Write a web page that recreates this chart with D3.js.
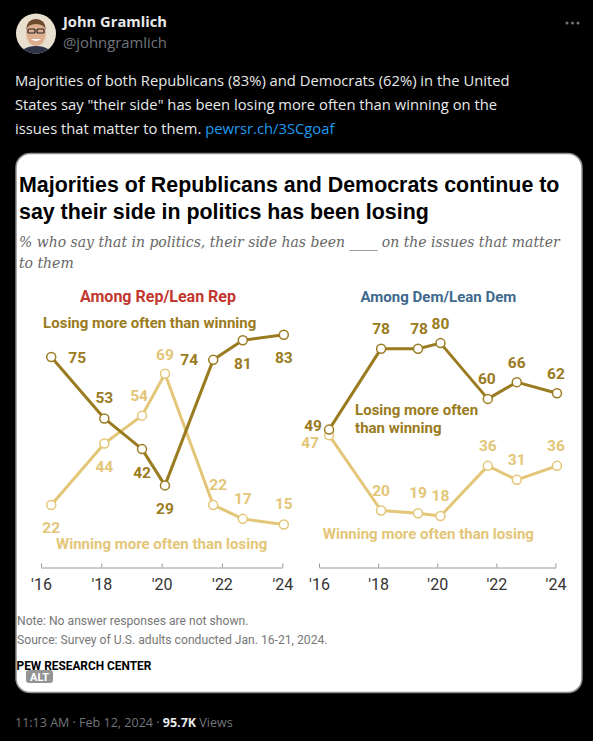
<!DOCTYPE html>
<html>
<head>
<meta charset="utf-8">
<script src="https://cdn.jsdelivr.net/npm/d3@7"></script>
<style>
  body { margin: 0; background: #000; }
  svg { display: block; }
</style>
</head>
<body>
<div id="chart"></div>
<script>
// survey dates (decimal years)
const surveyDates = [2016.34, 2018.1, 2019.35, 2020.11, 2021.71, 2022.69, 2024.05];
const tickYears = [2016, 2018, 2020, 2022, 2024];
const tickLabels = ["'16", "'18", "'20", "'22", "'24"];

const repLosing = [75, 53, 42, 29, 74, 81, 83];
const repWinning = [22, 44, 54, 69, 22, 17, 15];
const demLosing = [49, 78, 78, 80, 60, 66, 62];
const demWinning = [47, 20, 19, 18, 36, 31, 36];

// where each value label sits relative to its point (px)
const repLosingLab = [[26, 1], [0, -21], [0, 23], [0, 23], [-24, 0], [0, 23], [0, 23]];
const repWinningLab = [[0, 23], [0, 23], [-3, -20], [0, -19], [5, -20], [0, -20], [0, -21]];
const demLosingLab = [[-16, -4], [0, -20], [1, -20], [0, -20], [-1, -20], [0, -20], [-1, -20]];
const demWinningLab = [[-19, 7], [0, -20], [0, -21], [0, -21], [0, -20], [0, -20], [-1, -20]];

const W = 593, H = 741;
const darkGold = "#9a7b20", lightGold = "#e3c677";
const labelFont = "Roboto, 'Liberation Sans', sans-serif";

const svg = d3.select("#chart").append("svg")
    .attr("width", W).attr("height", H);

function fitWidth(sel, w) {
    const len = sel.node().getComputedTextLength();
    const fs = parseFloat(sel.style("font-size"));
    sel.style("font-size", (fs * w / len) + "px");
}

// ---- tweet header ----
const av = svg.append("g");
av.append("clipPath").attr("id", "avclip")
    .append("circle").attr("cx", 36).attr("cy", 33.5).attr("r", 20);
const avg = av.append("g").attr("clip-path", "url(#avclip)");
avg.append("rect").attr("x", 16).attr("y", 13).attr("width", 40).attr("height", 41).attr("fill", "#e9dfcf");
avg.append("ellipse").attr("cx", 36).attr("cy", 56).attr("rx", 17).attr("ry", 10).attr("fill", "#2d3447");
avg.append("ellipse").attr("cx", 36).attr("cy", 33).attr("rx", 10).attr("ry", 13).attr("fill", "#dcae90");
avg.append("path").attr("d", "M26,30 Q27,19 36,19 Q45,19 46,30 Q44,24 36,24 Q28,24 26,30Z").attr("fill", "#6e4a2c");
avg.append("rect").attr("x", 28).attr("y", 29).attr("width", 7).attr("height", 4).attr("rx", 1)
    .attr("fill", "none").attr("stroke", "#222").attr("stroke-width", 1.2);
avg.append("rect").attr("x", 37).attr("y", 29).attr("width", 7).attr("height", 4).attr("rx", 1)
    .attr("fill", "none").attr("stroke", "#222").attr("stroke-width", 1.2);
avg.append("path").attr("d", "M31,39 Q36,43 41,39").attr("fill", "#fff");

svg.append("text").attr("x", 63).attr("y", 27)
    .attr("font-family", "'Open Sans', sans-serif").attr("font-weight", 700)
    .attr("font-size", 15).attr("fill", "#e7e9ea").text("John Gramlich")
    .call(fitWidth, 104);
svg.append("text").attr("x", 63).attr("y", 48)
    .attr("font-family", "'Open Sans', sans-serif")
    .attr("font-size", 15).attr("fill", "#71767b").text("@johngramlich")
    .call(fitWidth, 104);
svg.append("g").selectAll("circle").data([567, 572.5, 578]).join("circle")
    .attr("cx", d => d).attr("cy", 23).attr("r", 1.5).attr("fill", "#71767b");

// ---- tweet text ----
const tweetLines = [
    "Majorities of both Republicans (83%) and Democrats (62%) in the United",
    "States say \"their side\" has been losing more often than winning on the"
];
const tw = svg.append("g").attr("font-family", "'Open Sans', sans-serif")
    .attr("font-size", 16).attr("fill", "#e7e9ea");
const l1 = tw.append("text").attr("x", 15).attr("y", 86).text(tweetLines[0]);
fitWidth(l1, 495);
const tfs = l1.style("font-size");
tw.append("text").attr("x", 15).attr("y", 110).style("font-size", tfs).text(tweetLines[1]);
const l3 = tw.append("text").attr("x", 15).attr("y", 134).style("font-size", tfs);
l3.append("tspan").text("issues that matter to them. ");
l3.append("tspan").attr("fill", "#1d9bf0").text("pewrsr.ch/3SCgoaf");

// ---- card ----
svg.append("rect").attr("x", 16).attr("y", 153.5).attr("width", 566).attr("height", 539)
    .attr("rx", 14).attr("fill", "#fff").attr("stroke", "#8d8d8d").attr("stroke-width", 1.5);

const title = svg.append("g").attr("font-family", "'Liberation Sans', Arial, sans-serif")
    .attr("font-weight", 700).attr("font-size", 20).attr("fill", "#000");
const t1 = title.append("text").attr("x", 19).attr("y", 192)
    .text("Majorities of Republicans and Democrats continue to");
fitWidth(t1, 541);
title.append("text").attr("x", 19).attr("y", 219).style("font-size", t1.style("font-size"))
    .text("say their side in politics has been losing");

const sub = svg.append("g").attr("font-family", "'DejaVu Serif', Georgia, serif")
    .attr("font-style", "italic").attr("font-size", 15).attr("fill", "#666");
const s1 = sub.append("text").attr("x", 19).attr("y", 247)
    .text("% who say that in politics, their side has been ____ on the issues that matter");
fitWidth(s1, 541);
sub.append("text").attr("x", 19).attr("y", 268).style("font-size", s1.style("font-size"))
    .text("to them");

// ---- panels ----
const y = d3.scaleLinear().domain([0, 100]).range([566.3, 287.3]);
const axisY = 567.5;

const panels = [
    { range: [41, 282.3], head: "Among Rep/Lean Rep", headColor: "#c2372e", headX: 2019.88,
      losing: repLosing, winning: repWinning, losingLab: repLosingLab, winningLab: repWinningLab,
      losingNote: { x: 2016.07, v: 85.4, anchor: "start", lines: ["Losing more often than winning"] },
      winningNote: { x: 2020.0, v: 6.2, anchor: "middle", lines: ["Winning more often than losing"] } },
    { range: [319, 555.5], head: "Among Dem/Lean Dem", headColor: "#3e6a8d", headX: 2020.04,
      losing: demLosing, winning: demWinning, losingLab: demLosingLab, winningLab: demWinningLab,
      losingNote: { x: 2017.22, v: 54.3, anchor: "start", lines: ["Losing more often", "than winning"] },
      winningNote: { x: 2019.7, v: 9.8, anchor: "middle", lines: ["Winning more often than losing"] } }
];

panels.forEach(p => {
    const x = d3.scaleLinear().domain([2016, 2024]).range(p.range);
    const g = svg.append("g");

    // axis
    const ax = g.append("g").attr("transform", `translate(0,${axisY})`)
        .call(d3.axisBottom(x).tickValues(tickYears)
            .tickFormat((d, i) => tickLabels[i])
            .tickSizeInner(-4).tickSizeOuter(0).tickPadding(11));
    ax.select(".domain").attr("stroke", "#999");
    ax.selectAll(".tick line").attr("stroke", "#999");
    ax.selectAll(".tick text").attr("font-family", labelFont).attr("font-size", 16)
        .attr("fill", "#333");

    // panel heading
    g.append("text").attr("x", x(p.headX)).attr("y", y(94.7))
        .attr("text-anchor", "middle").attr("font-family", labelFont)
        .attr("font-weight", 700).attr("font-size", 15).attr("fill", p.headColor)
        .text(p.head).call(fitWidth, 156);

    const series = [
        { vals: p.winning, lab: p.winningLab, color: lightGold, note: p.winningNote },
        { vals: p.losing, lab: p.losingLab, color: darkGold, note: p.losingNote }
    ];

    const line = d3.line().x((d, i) => x(surveyDates[i])).y(d => y(d));

    series.forEach(s => {
        g.append("path").datum(s.vals)
            .attr("fill", "none").attr("stroke", s.color)
            .attr("stroke-width", 3).attr("stroke-linejoin", "round")
            .attr("d", line);
        g.append("g").selectAll("circle").data(s.vals).join("circle")
            .attr("cx", (d, i) => x(surveyDates[i])).attr("cy", d => y(d))
            .attr("r", 4.5).attr("fill", "#fff")
            .attr("stroke", s.color).attr("stroke-width", 1.5);
        g.append("g").selectAll("text").data(s.vals).join("text")
            .attr("x", (d, i) => x(surveyDates[i]) + s.lab[i][0])
            .attr("y", (d, i) => y(d) + s.lab[i][1])
            .attr("dy", "0.35em").attr("text-anchor", "middle")
            .attr("font-family", labelFont).attr("font-weight", 700)
            .attr("font-size", 15.5).attr("fill", s.color)
            .text(d => d);

        const nt = g.append("text").attr("x", x(s.note.x)).attr("y", y(s.note.v))
            .attr("text-anchor", s.note.anchor).attr("font-family", labelFont)
            .attr("font-weight", 700).attr("font-size", 15).attr("fill", s.color);
        nt.selectAll("tspan").data(s.note.lines).join("tspan")
            .attr("x", x(s.note.x)).attr("dy", (d, i) => i ? 18.5 : 0)
            .text(d => d);
    });
});

// ---- card footer ----
const foot = svg.append("g").attr("font-family", labelFont).attr("fill", "#777");
const n1 = foot.append("text").attr("x", 17).attr("y", 625).attr("font-size", 13)
    .text("Note: No answer responses are not shown.");
const n2 = foot.append("text").attr("x", 17).attr("y", 644).attr("font-size", 13)
    .text("Source: Survey of U.S. adults conducted Jan. 16-21, 2024.");
fitWidth(n2, 311);
n1.style("font-size", n2.style("font-size"));
svg.append("text").attr("x", 16.5).attr("y", 670).attr("font-family", labelFont)
    .attr("font-weight", 700).attr("font-size", 13).attr("fill", "#000")
    .text("PEW RESEARCH CENTER").call(fitWidth, 135);

svg.append("rect").attr("x", 26).attr("y", 670).attr("width", 27).attr("height", 13)
    .attr("rx", 3).attr("fill", "rgba(60,60,60,0.55)");
svg.append("text").attr("x", 39.5).attr("y", 680.5).attr("text-anchor", "middle")
    .attr("font-family", labelFont).attr("font-weight", 700).attr("font-size", 11)
    .attr("fill", "#fff").text("ALT");

// ---- tweet footer ----
const tf = svg.append("text").attr("x", 15).attr("y", 727)
    .attr("font-family", "'Open Sans', sans-serif").attr("font-size", 14).attr("fill", "#71767b");
tf.append("tspan").text("11:13 AM · Feb 12, 2024 · ");
tf.append("tspan").attr("fill", "#e7e9ea").attr("font-weight", 700).text("95.7K");
tf.append("tspan").text(" Views");
fitWidth(tf, 218);
</script>
</body>
</html>
